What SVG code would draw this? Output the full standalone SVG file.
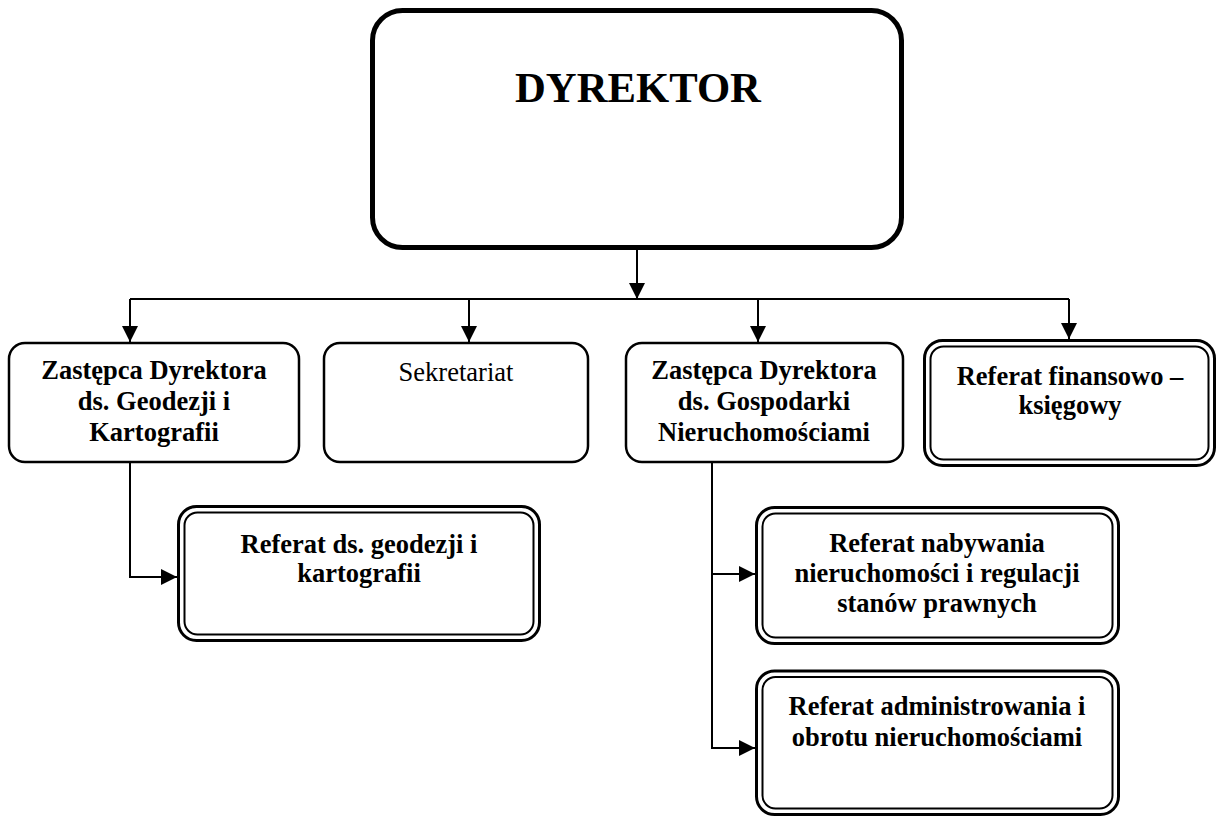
<svg xmlns="http://www.w3.org/2000/svg" width="1218" height="818" viewBox="0 0 1218 818">
  <defs>
    <marker id="arrow" viewBox="0 0 16 16" refX="16" refY="8" markerWidth="16" markerHeight="16" markerUnits="userSpaceOnUse" orient="auto">
      <path d="M0,0 L16,8 L0,16 z" fill="#000"/>
    </marker>
    <style>
      .box { fill: #fff; stroke: #000; stroke-width: 2.5; }
      .outer { fill: #fff; stroke: #000; stroke-width: 3; }
      .inner { fill: none; stroke: #000; stroke-width: 2; }
      .conn { fill: none; stroke: #000; stroke-width: 2; }
      .t { font-family: "Liberation Serif", "Times New Roman", serif; font-size: 26.5px; text-anchor: middle; fill: #000; }
      .b { font-weight: bold; }
    </style>
  </defs>

  <rect width="1218" height="818" fill="#fff"/>

  <!-- connectors -->
  <g id="connectors">
    <line class="conn" x1="637" y1="250" x2="637" y2="299" marker-end="url(#arrow)"/>
    <line class="conn" x1="130" y1="299" x2="1069" y2="299"/>
    <line class="conn" x1="130" y1="299" x2="130" y2="342" marker-end="url(#arrow)"/>
    <line class="conn" x1="469" y1="299" x2="469" y2="342" marker-end="url(#arrow)"/>
    <line class="conn" x1="758" y1="299" x2="758" y2="342" marker-end="url(#arrow)"/>
    <line class="conn" x1="1069" y1="299" x2="1069" y2="339" marker-end="url(#arrow)"/>
    <path class="conn" d="M130,463 V577 H177" marker-end="url(#arrow)"/>
    <path class="conn" d="M712,463 V748 H755" marker-end="url(#arrow)"/>
    <path class="conn" d="M712,574 H755" marker-end="url(#arrow)"/>
  </g>

  <!-- director -->
  <g id="dyrektor">
    <rect x="372.5" y="10.5" width="529" height="237" rx="30" fill="#fff" stroke="#000" stroke-width="5"/>
    <text class="t b" x="638" y="102" style="font-size:42.7px">DYREKTOR</text>
  </g>

  <!-- deputy director: geodesy and cartography -->
  <g id="zastepca-geodezji">
    <rect class="box" x="9" y="343" width="290" height="119" rx="16"/>
    <text class="t b" x="154" y="379">Zastępca Dyrektora</text>
    <text class="t b" x="154" y="410">ds. Geodezji i</text>
    <text class="t b" x="154" y="441">Kartografii</text>
  </g>

  <!-- secretariat -->
  <g id="sekretariat">
    <rect class="box" x="324" y="343" width="264" height="119" rx="16"/>
    <text class="t" x="456" y="381">Sekretariat</text>
  </g>

  <!-- deputy director: real estate -->
  <g id="zastepca-nieruchomosci">
    <rect class="box" x="626" y="343" width="277" height="119" rx="16"/>
    <text class="t b" x="764" y="379">Zastępca Dyrektora</text>
    <text class="t b" x="764" y="410">ds. Gospodarki</text>
    <text class="t b" x="764" y="441">Nieruchomościami</text>
  </g>

  <!-- finance and accounting -->
  <g id="referat-finansowy">
    <rect class="outer" x="924.5" y="340.5" width="290" height="125" rx="18"/>
    <rect class="inner" x="930.5" y="346.5" width="278" height="113" rx="13"/>
    <text class="t b" x="1070" y="385">Referat finansowo –</text>
    <text class="t b" x="1070" y="414">księgowy</text>
  </g>

  <!-- geodesy and cartography unit -->
  <g id="referat-geodezji">
    <rect class="outer" x="178.5" y="506.5" width="361" height="134" rx="18"/>
    <rect class="inner" x="184.5" y="512.5" width="349" height="122" rx="13"/>
    <text class="t b" x="359" y="553">Referat ds. geodezji i</text>
    <text class="t b" x="359" y="582">kartografii</text>
  </g>

  <!-- acquisition and legal status unit -->
  <g id="referat-nabywania">
    <rect class="outer" x="756.5" y="507.5" width="362" height="136" rx="18"/>
    <rect class="inner" x="762.5" y="513.5" width="350" height="124" rx="13"/>
    <text class="t b" x="937" y="552">Referat nabywania</text>
    <text class="t b" x="937" y="582">nieruchomości i regulacji</text>
    <text class="t b" x="937" y="612">stanów prawnych</text>
  </g>

  <!-- administration and trading unit -->
  <g id="referat-administrowania">
    <rect class="outer" x="756.5" y="671" width="362" height="143.5" rx="18"/>
    <rect class="inner" x="762.5" y="677" width="350" height="131.5" rx="13"/>
    <text class="t b" x="937" y="715">Referat administrowania i</text>
    <text class="t b" x="937" y="746">obrotu nieruchomościami</text>
  </g>
</svg>
